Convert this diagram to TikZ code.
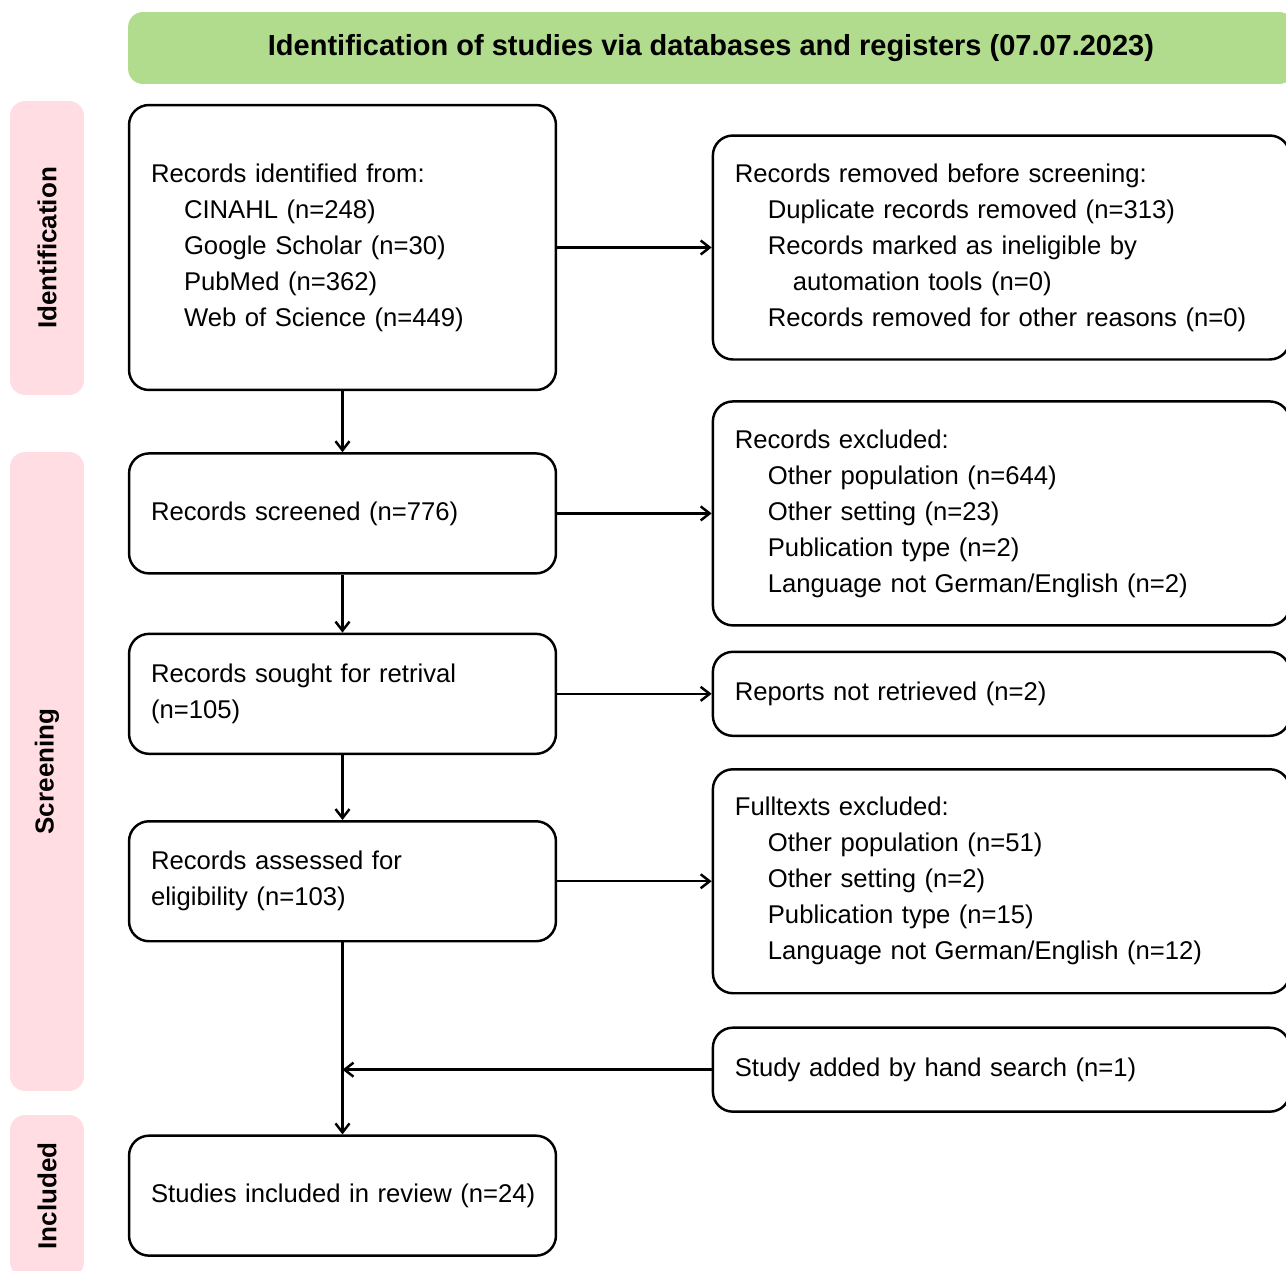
\documentclass[tikz,border=0pt]{standalone}
\usepackage{fontspec}
\setmainfont{Liberation Sans}
\usetikzlibrary{arrows.meta,positioning}

\definecolor{headgreen}{HTML}{B1DB8D}
\definecolor{sidepink}{HTML}{FFDDE3}
\newcommand{\lvlone}{\hspace*{0.66cm}}
\newcommand{\lvltwo}{\hspace*{1.16cm}}

\begin{document}
\begin{tikzpicture}[
  x=0.02cm,y=-0.02cm,
  node distance=1.22cm and 3.09cm,
  every node/.style={font=\fontsize{14.6}{20.5}\selectfont},
  box/.style={draw,line width=1.4pt,rounded corners=0.4cm,align=left,
    inner xsep=0.44cm,inner ysep=0pt,text width=7.66cm,minimum height=2.4cm},
  rbox/.style={box,text width=10.66cm,minimum height=4.48cm},
  side/.style={fill=sidepink,rounded corners=0.3cm,rotate=90,minimum height=1.48cm,
    font=\fontsize{14.8}{18}\selectfont\bfseries},
  head/.style={fill=headgreen,rounded corners=0.3cm,minimum width=23.32cm,minimum height=1.44cm,
    font=\fontsize{16.5}{20}\selectfont\bfseries},
  arr/.style={-{Straight Barb[length=1.8mm,width=2.8mm]},line width=1.4pt}
]
\useasboundingbox (0,0) rectangle (1286,1271);

% header and phases
\node[head] (title) at (711,48) {Identification of studies via databases and registers (07.07.2023)};
\node[side,minimum width=5.88cm] (sident) at (47,248) {Identification};
\node[side,minimum width=12.78cm] (sscreen) at (47,771.5) {Screening};
\node[side,minimum width=3.24cm] (sincl) at (47,1196) {Included};

% main column
\node[box,minimum height=5.7cm] (ident) at (342.5,247.5) {Records identified from:\\
  \lvlone CINAHL (n=248)\\
  \lvlone Google Scholar (n=30)\\
  \lvlone PubMed (n=362)\\
  \lvlone Web of Science (n=449)};
\node[box,below=of ident] (screen) {Records screened (n=776)};
\node[box,below=1.16cm of screen] (sought) {Records sought for retrival\\(n=105)};
\node[box,below=1.30cm of sought] (elig) {Records assessed for\\eligibility (n=103)};
\node[box,below=3.84cm of elig] (incl) {\mbox{Studies included in review (n=24)}};

% side column
\node[rbox,right=of ident] (removed) {Records removed before screening:\\
  \lvlone Duplicate records removed (n=313)\\
  \lvlone Records marked as ineligible by\\
  \lvltwo automation tools (n=0)\\
  \lvlone Records removed for other reasons (n=0)};
\node[rbox,right=of screen] (excl) {Records excluded:\\
  \lvlone Other population (n=644)\\
  \lvlone Other setting (n=23)\\
  \lvlone Publication type (n=2)\\
  \lvlone Language not German/English (n=2)};
\node[rbox,minimum height=1.68cm,right=of sought] (notret) {Reports not retrieved (n=2)};
\node[rbox,right=of elig] (fexcl) {Fulltexts excluded:\\
  \lvlone Other population (n=51)\\
  \lvlone Other setting (n=2)\\
  \lvlone Publication type (n=15)\\
  \lvlone Language not German/English (n=12)};
\node[rbox,minimum height=1.68cm,below=0.64cm of fexcl] (hand) {Study added by hand search (n=1)};

\draw[arr] (ident)--(removed);
\draw[arr] (screen)--(excl);
\draw[arr] (sought)--(notret);
\draw[arr] (elig)--(fexcl);
\draw[arr] (ident)--(screen);
\draw[arr] (screen)--(sought);
\draw[arr] (sought)--(elig);
\draw[arr] (elig)--(incl);
\draw[arr] (hand.west)--(hand.west -| elig.south);
\end{tikzpicture}
\end{document}
